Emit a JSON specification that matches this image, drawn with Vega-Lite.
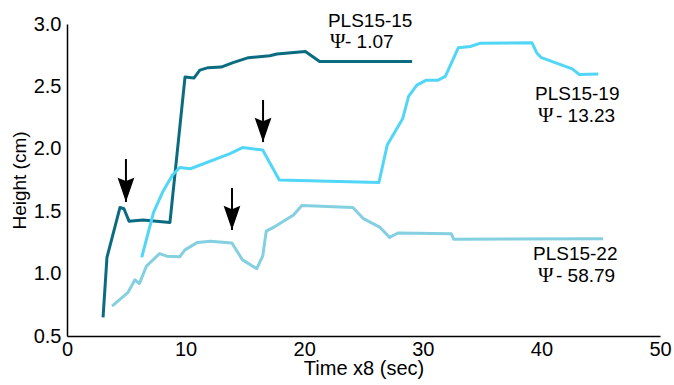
{
  "$schema": "https://vega.github.io/schema/vega-lite/v6.json",
  "width": 593,
  "height": 312,
  "autosize": {"type": "none"},
  "padding": {"left": 67, "top": 24, "right": 14, "bottom": 49},
  "config": {
    "view": {"stroke": null},
    "font": "Liberation Sans",
    "axis": {"domainColor": "#000000", "domainWidth": 1.5, "ticks": false, "grid": false, "labelFlush": false, "labelOverlap": false, "labelFontSize": 20, "labelColor": "#000000", "titleFontSize": 19, "titleFontWeight": "normal", "titleColor": "#000000", "labelFont": "Liberation Sans", "titleFont": "Liberation Sans"}
  },
  "datasets": {
    "series": [
      {"s": "PLS15-15", "t": 3.04, "h": 0.65},
      {"s": "PLS15-15", "t": 3.37, "h": 1.13},
      {"s": "PLS15-15", "t": 4.47, "h": 1.53},
      {"s": "PLS15-15", "t": 4.8, "h": 1.52},
      {"s": "PLS15-15", "t": 5.23, "h": 1.42},
      {"s": "PLS15-15", "t": 6.4, "h": 1.43},
      {"s": "PLS15-15", "t": 8.68, "h": 1.41},
      {"s": "PLS15-15", "t": 9.95, "h": 2.575},
      {"s": "PLS15-15", "t": 10.7, "h": 2.567},
      {"s": "PLS15-15", "t": 11.2, "h": 2.63},
      {"s": "PLS15-15", "t": 11.9, "h": 2.65},
      {"s": "PLS15-15", "t": 13.0, "h": 2.655},
      {"s": "PLS15-15", "t": 14.0, "h": 2.69},
      {"s": "PLS15-15", "t": 15.3, "h": 2.73},
      {"s": "PLS15-15", "t": 17.1, "h": 2.745},
      {"s": "PLS15-15", "t": 17.7, "h": 2.76},
      {"s": "PLS15-15", "t": 20.1, "h": 2.78},
      {"s": "PLS15-15", "t": 20.7, "h": 2.74},
      {"s": "PLS15-15", "t": 21.3, "h": 2.70},
      {"s": "PLS15-15", "t": 29.1, "h": 2.70},

      {"s": "PLS15-19", "t": 6.3, "h": 1.13},
      {"s": "PLS15-19", "t": 7.3, "h": 1.49},
      {"s": "PLS15-19", "t": 8.1, "h": 1.66},
      {"s": "PLS15-19", "t": 8.9, "h": 1.79},
      {"s": "PLS15-19", "t": 9.5, "h": 1.85},
      {"s": "PLS15-19", "t": 10.4, "h": 1.84},
      {"s": "PLS15-19", "t": 13.7, "h": 1.96},
      {"s": "PLS15-19", "t": 14.8, "h": 2.01},
      {"s": "PLS15-19", "t": 16.5, "h": 1.99},
      {"s": "PLS15-19", "t": 17.9, "h": 1.75},
      {"s": "PLS15-19", "t": 26.3, "h": 1.73},
      {"s": "PLS15-19", "t": 27.0, "h": 2.03},
      {"s": "PLS15-19", "t": 28.3, "h": 2.24},
      {"s": "PLS15-19", "t": 28.8, "h": 2.42},
      {"s": "PLS15-19", "t": 29.5, "h": 2.51},
      {"s": "PLS15-19", "t": 30.3, "h": 2.55},
      {"s": "PLS15-19", "t": 31.3, "h": 2.55},
      {"s": "PLS15-19", "t": 31.9, "h": 2.58},
      {"s": "PLS15-19", "t": 33.0, "h": 2.81},
      {"s": "PLS15-19", "t": 34.0, "h": 2.82},
      {"s": "PLS15-19", "t": 34.8, "h": 2.845},
      {"s": "PLS15-19", "t": 39.2, "h": 2.85},
      {"s": "PLS15-19", "t": 39.6, "h": 2.77},
      {"s": "PLS15-19", "t": 40.0, "h": 2.73},
      {"s": "PLS15-19", "t": 42.6, "h": 2.64},
      {"s": "PLS15-19", "t": 43.2, "h": 2.595},
      {"s": "PLS15-19", "t": 44.8, "h": 2.60},

      {"s": "PLS15-22", "t": 3.8, "h": 0.74},
      {"s": "PLS15-22", "t": 5.15, "h": 0.85},
      {"s": "PLS15-22", "t": 5.73, "h": 0.95},
      {"s": "PLS15-22", "t": 6.1, "h": 0.92},
      {"s": "PLS15-22", "t": 6.7, "h": 1.06},
      {"s": "PLS15-22", "t": 7.8, "h": 1.16},
      {"s": "PLS15-22", "t": 8.4, "h": 1.14},
      {"s": "PLS15-22", "t": 9.5, "h": 1.135},
      {"s": "PLS15-22", "t": 9.95, "h": 1.19},
      {"s": "PLS15-22", "t": 11.0, "h": 1.25},
      {"s": "PLS15-22", "t": 12.1, "h": 1.26},
      {"s": "PLS15-22", "t": 13.9, "h": 1.245},
      {"s": "PLS15-22", "t": 14.8, "h": 1.11},
      {"s": "PLS15-22", "t": 16.0, "h": 1.04},
      {"s": "PLS15-22", "t": 16.5, "h": 1.14},
      {"s": "PLS15-22", "t": 16.8, "h": 1.34},
      {"s": "PLS15-22", "t": 17.4, "h": 1.37},
      {"s": "PLS15-22", "t": 19.1, "h": 1.47},
      {"s": "PLS15-22", "t": 19.8, "h": 1.545},
      {"s": "PLS15-22", "t": 24.1, "h": 1.53},
      {"s": "PLS15-22", "t": 25.0, "h": 1.44},
      {"s": "PLS15-22", "t": 26.4, "h": 1.37},
      {"s": "PLS15-22", "t": 27.2, "h": 1.29},
      {"s": "PLS15-22", "t": 27.9, "h": 1.325},
      {"s": "PLS15-22", "t": 32.4, "h": 1.32},
      {"s": "PLS15-22", "t": 32.6, "h": 1.275},
      {"s": "PLS15-22", "t": 45.2, "h": 1.28}
    ],
    "arrows": [
      {"t": 4.97, "top": 1.918, "tip": 1.574},
      {"t": 16.53, "top": 2.391, "tip": 2.054},
      {"t": 13.91, "top": 1.686, "tip": 1.349}
    ],
    "names": [
      {"t": 22.0, "h": 2.976, "label": "PLS15-15"},
      {"t": 39.46, "h": 2.391, "label": "PLS15-19"},
      {"t": 39.29, "h": 1.109, "label": "PLS15-22"}
    ],
    "psi": [
      {"t": 22.18, "h": 2.808, "label": "Ψ"},
      {"t": 39.71, "h": 2.215, "label": "Ψ"},
      {"t": 39.71, "h": 0.933, "label": "Ψ"}
    ],
    "vals": [
      {"t": 23.44, "h": 2.808, "label": "- 1.07"},
      {"t": 41.23, "h": 2.215, "label": "- 13.23"},
      {"t": 41.23, "h": 0.933, "label": "- 58.79"}
    ]
  },
  "layer": [
    {
      "data": {"name": "series"},
      "mark": {"type": "line", "strokeWidth": 3, "strokeJoin": "round"},
      "encoding": {
        "x": {"field": "t", "type": "quantitative", "scale": {"domain": [0, 50], "nice": false}, "axis": {"values": [0, 10, 20, 30, 40, 50], "title": "Time x8 (sec)", "titleFontSize": 20, "labelPadding": 3, "titlePadding": -1}},
        "y": {"field": "h", "type": "quantitative", "scale": {"domain": [0.5, 3.0], "nice": false, "zero": false}, "axis": {"values": [0.5, 1.0, 1.5, 2.0, 2.5, 3.0], "format": ".1f", "title": "Height (cm)", "labelPadding": 6, "titlePadding": 4}},
        "color": {"field": "s", "type": "nominal", "scale": {"domain": ["PLS15-15", "PLS15-19", "PLS15-22"], "range": ["#0b6b80", "#52d6f7", "#84cfe0"]}, "legend": null}
      }
    },
    {
      "data": {"name": "arrows"},
      "mark": {"type": "rule", "color": "#000000", "strokeWidth": 2},
      "encoding": {
        "x": {"field": "t", "type": "quantitative"},
        "y": {"field": "top", "type": "quantitative"},
        "y2": {"field": "tip"}
      }
    },
    {
      "data": {"name": "arrows"},
      "mark": {"type": "point", "shape": "M-1,-2.9L0,-2.5L1,-2.9L0,0Z", "size": 280, "filled": true, "color": "#000000", "opacity": 1, "strokeWidth": 0},
      "encoding": {
        "x": {"field": "t", "type": "quantitative"},
        "y": {"field": "tip", "type": "quantitative"}
      }
    },
    {
      "data": {"name": "names"},
      "mark": {"type": "text", "align": "left", "baseline": "alphabetic", "fontSize": 19, "font": "Liberation Sans", "color": "#000000"},
      "encoding": {
        "x": {"field": "t", "type": "quantitative"},
        "y": {"field": "h", "type": "quantitative"},
        "text": {"field": "label"}
      }
    },
    {
      "data": {"name": "psi"},
      "mark": {"type": "text", "align": "left", "baseline": "alphabetic", "fontSize": 21, "font": "Liberation Serif", "color": "#000000"},
      "encoding": {
        "x": {"field": "t", "type": "quantitative"},
        "y": {"field": "h", "type": "quantitative"},
        "text": {"field": "label"}
      }
    },
    {
      "data": {"name": "vals"},
      "mark": {"type": "text", "align": "left", "baseline": "alphabetic", "fontSize": 19, "font": "Liberation Sans", "color": "#000000"},
      "encoding": {
        "x": {"field": "t", "type": "quantitative"},
        "y": {"field": "h", "type": "quantitative"},
        "text": {"field": "label"}
      }
    }
  ]
}
